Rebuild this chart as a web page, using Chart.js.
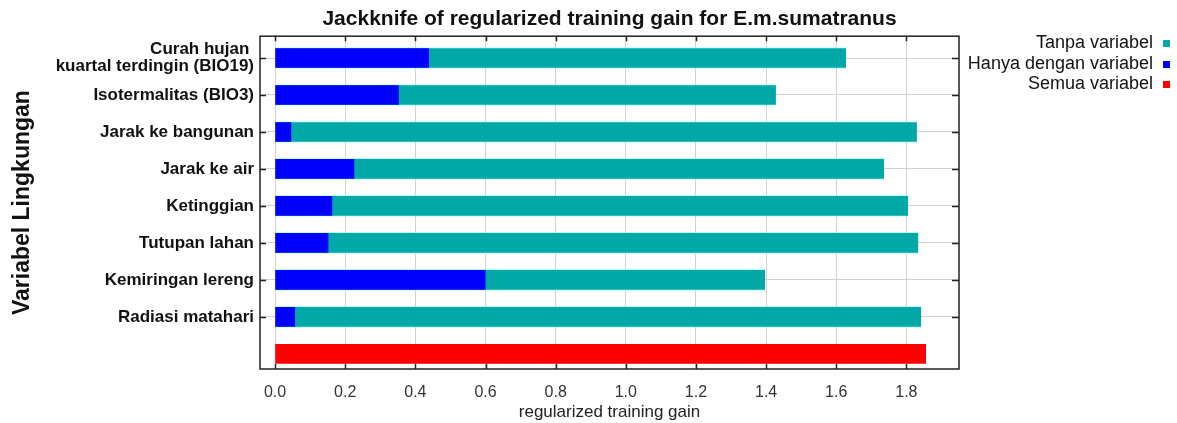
<!DOCTYPE html>
<html>
<head>
<meta charset="utf-8">
<script src="https://cdn.jsdelivr.net/npm/chart.js@4.4.0/dist/chart.umd.min.js"></script>
<style>
  html, body { margin: 0; padding: 0; background: #ffffff; }
  #wrap { width: 1177px; height: 423px; position: relative; }
</style>
</head>
<body>
<div id="wrap"><canvas id="chart" width="1177" height="423"></canvas></div>
<script>
// Environmental variables (last row holds the all-variables model)
const variables = [
  ['Curah hujan ', 'kuartal terdingin (BIO19)'],
  'Isotermalitas (BIO3)',
  'Jarak ke bangunan',
  'Jarak ke air',
  'Ketinggian',
  'Tutupan lahan',
  'Kemiringan lereng',
  'Radiasi matahari',
  ''
];

// Regularized training gain without each variable
const gainWithout = [1.628, 1.428, 1.830, 1.736, 1.805, 1.834, 1.397, 1.842, null];
// Regularized training gain with only each variable
const gainOnly = [0.438, 0.352, 0.045, 0.225, 0.162, 0.151, 0.599, 0.056, null];
// Regularized training gain with all variables
const gainAll = [null, null, null, null, null, null, null, null, 1.855];

const xTicks = [0, 0.2, 0.4, 0.6, 0.8, 1.0, 1.2, 1.4, 1.6, 1.8];
const xTickLabels = ['0.0', '0.2', '0.4', '0.6', '0.8', '1.0', '1.2', '1.4', '1.6', '1.8'];

const FONT = '"Liberation Sans", Arial, Helvetica, sans-serif';
const TEAL = '#00a8a8';
const BLUE = '#0000ff';
const RED = '#ff0000';

// Rows are placed on a numeric axis: row i sits at y = i
const toPoints = arr => arr.map((v, i) => ({ x: v, y: i }));

// Plot frame with inward tick marks on all four sides
const framePlugin = {
  id: 'frame',
  afterDraw(chart) {
    const { ctx, chartArea: a, scales: { x, y } } = chart;
    ctx.save();
    ctx.strokeStyle = '#222222';
    ctx.lineWidth = 1.5;
    ctx.beginPath();
    x.ticks.forEach(t => {
      const px = Math.round(x.getPixelForValue(t.value)) + 0.5;
      ctx.moveTo(px, a.top); ctx.lineTo(px, a.top + 5);
      ctx.moveTo(px, a.bottom); ctx.lineTo(px, a.bottom - 5);
    });
    y.ticks.forEach(t => {
      if (!variables[t.value]) return;
      const py = Math.round(y.getPixelForValue(t.value)) + 0.5;
      ctx.moveTo(a.left, py); ctx.lineTo(a.left + 6, py);
      ctx.moveTo(a.right, py); ctx.lineTo(a.right - 7, py);
    });
    ctx.stroke();
    ctx.strokeRect(a.left, a.top, a.right - a.left, a.bottom - a.top);
    ctx.restore();
  }
};

// Legend at the right: label text followed by a small colour square
const legendOrder = [1, 0, 2];
const sideLegendPlugin = {
  id: 'sideLegend',
  afterDraw(chart) {
    const { ctx } = chart;
    ctx.save();
    ctx.font = '18px ' + FONT;
    ctx.textAlign = 'right';
    ctx.textBaseline = 'middle';
    legendOrder.forEach((di, row) => {
      const ds = chart.data.datasets[di];
      const yy = 43.5 + row * 20.5;
      ctx.fillStyle = '#111111';
      ctx.fillText(ds.label, 1153, yy);
      ctx.fillStyle = ds.backgroundColor;
      ctx.fillRect(1163, Math.round(yy - 3.5), 7, 7);
    });
    ctx.restore();
  }
};

new Chart(document.getElementById('chart'), {
  type: 'bar',
  data: {
    datasets: [
      {
        label: 'Hanya dengan variabel',
        data: toPoints(gainOnly),
        backgroundColor: BLUE,
        barThickness: 19,
        grouped: false,
        order: 0
      },
      {
        label: 'Tanpa variabel',
        data: toPoints(gainWithout),
        backgroundColor: TEAL,
        borderColor: 'rgba(150,255,255,0.7)',
        borderWidth: { top: 1, bottom: 1, left: 0, right: 0 },
        borderSkipped: false,
        barThickness: 21,
        grouped: false,
        order: 1
      },
      {
        label: 'Semua variabel',
        data: toPoints(gainAll),
        backgroundColor: RED,
        barThickness: 19,
        grouped: false,
        order: 2
      }
    ]
  },
  options: {
    indexAxis: 'y',
    responsive: false,
    animation: false,
    devicePixelRatio: 1,
    layout: { padding: { left: 0, right: 218, top: 0, bottom: 0 } },
    plugins: {
      legend: { display: false },
      tooltip: { enabled: false },
      title: {
        display: true,
        fullSize: false,
        text: 'Jackknife of regularized training gain for E.m.sumatranus',
        color: '#111111',
        font: { family: FONT, size: 21, weight: 'bold', lineHeight: 1.2 },
        padding: { top: 7, bottom: 4 }
      }
    },
    scales: {
      x: {
        type: 'linear',
        min: -0.043,
        max: 1.95,
        afterBuildTicks(scale) { scale.ticks = xTicks.map(v => ({ value: v })); },
        afterFit(scale) { scale.height = 54; },
        ticks: {
          autoSkip: false,
          maxRotation: 0,
          padding: 14,
          color: '#333333',
          font: { family: FONT, size: 16 },
          callback: (v, i) => xTickLabels[i]
        },
        grid: { color: '#d2d2d2', lineWidth: 1, drawTicks: false },
        border: { display: false },
        title: {
          display: true,
          text: 'regularized training gain',
          color: '#222222',
          font: { family: FONT, size: 17, lineHeight: 1.2 },
          padding: { top: 0, bottom: 0 }
        }
      },
      y: {
        type: 'linear',
        reverse: true,
        offset: false,
        min: -0.59,
        max: 8.41,
        afterBuildTicks(scale) { scale.ticks = variables.map((v, i) => ({ value: i })); },
        afterFit(scale) { scale.width = 260; },
        ticks: {
          autoSkip: false,
          padding: 6,
          color: '#111111',
          font: { family: FONT, size: 17, weight: 'bold', lineHeight: 1.0 },
          callback: v => variables[v]
        },
        grid: {
          offset: false,
          drawTicks: false,
          lineWidth: 1,
          color: ctx => (ctx.tick && variables[ctx.tick.value] ? '#d2d2d2' : 'rgba(0,0,0,0)')
        },
        border: { display: false },
        title: {
          display: true,
          text: 'Variabel Lingkungan',
          color: '#111111',
          font: { family: FONT, size: 23, weight: 'bold', lineHeight: 1.2 },
          padding: { top: 9, bottom: 0 }
        }
      }
    }
  },
  plugins: [framePlugin, sideLegendPlugin]
});
</script>
</body>
</html>
